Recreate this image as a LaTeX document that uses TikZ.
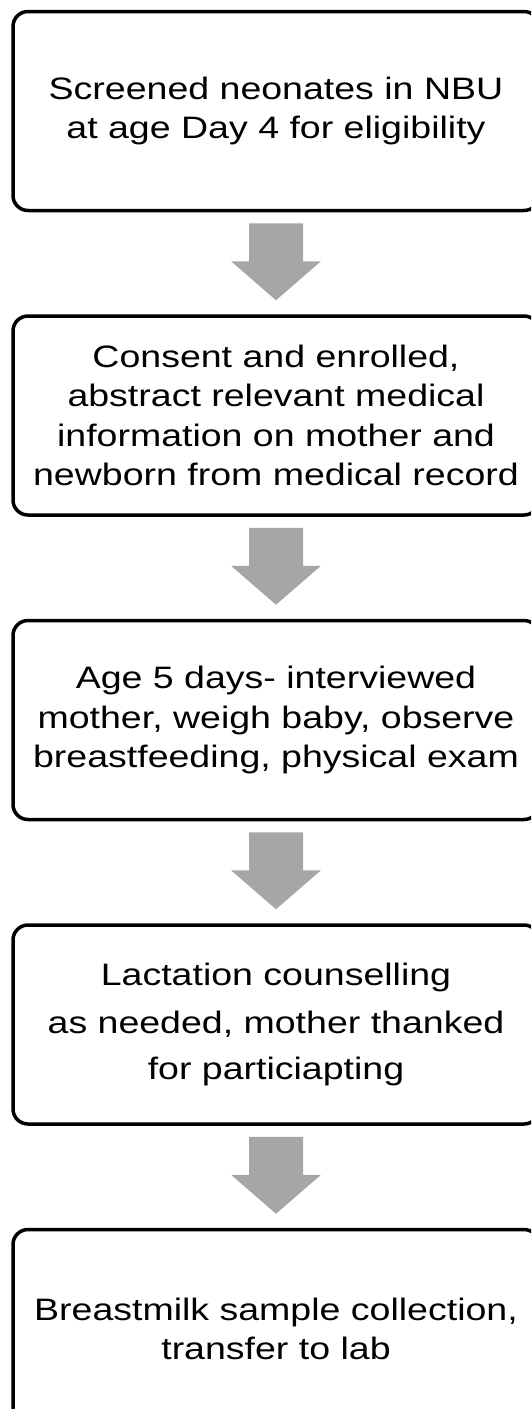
\documentclass[tikz,border=0pt]{standalone}
\usepackage{fontspec}
\setmainfont[FakeStretch=1.21]{Liberation Sans}
\usetikzlibrary{positioning,calc}
\definecolor{flowgray}{HTML}{A6A6A6}

\begin{document}
\begin{tikzpicture}[x=1pt,y=1pt,
  stepbox/.style={draw=black, line width=3.5pt, rounded corners=15pt,
    minimum width=526pt, minimum height=199pt, inner sep=0pt, align=center,
    font=\fontsize{31}{39.5}\selectfont},
  node distance=102pt]
  \useasboundingbox (0,0) rectangle (531,-1409);
  \clip (0,0) rectangle (531,-1409);

  \node[stepbox] (screen) at (276,-111) {Screened neonates in NBU\\at age Day 4 for eligibility};
  \node[stepbox, below=of screen] (consent) {Consent and enrolled,\\abstract relevant medical\\information on mother and\\newborn from medical record};
  \node[stepbox, below=of consent] (visit) {Age 5 days- interviewed\\mother, weigh baby, observe\\breastfeeding, physical exam};
  \node[stepbox, below=of visit] (counsel) {Lactation counselling\\[8pt]as needed, mother thanked\\[6.5pt]for particiapting};
  \node[stepbox, below=of counsel] (sample) {Breastmilk sample collection,\\transfer to lab};

  %\draw[flowgray, line width=54pt] (screen) -- (consent);
  \fill[flowgray] ($(screen.south)+(-27,-11)$) -- ($(screen.south)+(27,-11)$) -- ($(screen.south)+(27,-49)$) -- ($(screen.south)+(45,-49)$) -- ($(consent.north)+(0,14)$) -- ($(screen.south)+(-45,-49)$) -- ($(screen.south)+(-27,-49)$) -- cycle;
  \fill[flowgray] ($(consent.south)+(-27,-11)$) -- ($(consent.south)+(27,-11)$) -- ($(consent.south)+(27,-49)$) -- ($(consent.south)+(45,-49)$) -- ($(visit.north)+(0,14)$) -- ($(consent.south)+(-45,-49)$) -- ($(consent.south)+(-27,-49)$) -- cycle;
  \fill[flowgray] ($(visit.south)+(-27,-11)$) -- ($(visit.south)+(27,-11)$) -- ($(visit.south)+(27,-49)$) -- ($(visit.south)+(45,-49)$) -- ($(counsel.north)+(0,14)$) -- ($(visit.south)+(-45,-49)$) -- ($(visit.south)+(-27,-49)$) -- cycle;
  \fill[flowgray] ($(counsel.south)+(-27,-11)$) -- ($(counsel.south)+(27,-11)$) -- ($(counsel.south)+(27,-49)$) -- ($(counsel.south)+(45,-49)$) -- ($(sample.north)+(0,14)$) -- ($(counsel.south)+(-45,-49)$) -- ($(counsel.south)+(-27,-49)$) -- cycle;
\end{tikzpicture}
\end{document}
